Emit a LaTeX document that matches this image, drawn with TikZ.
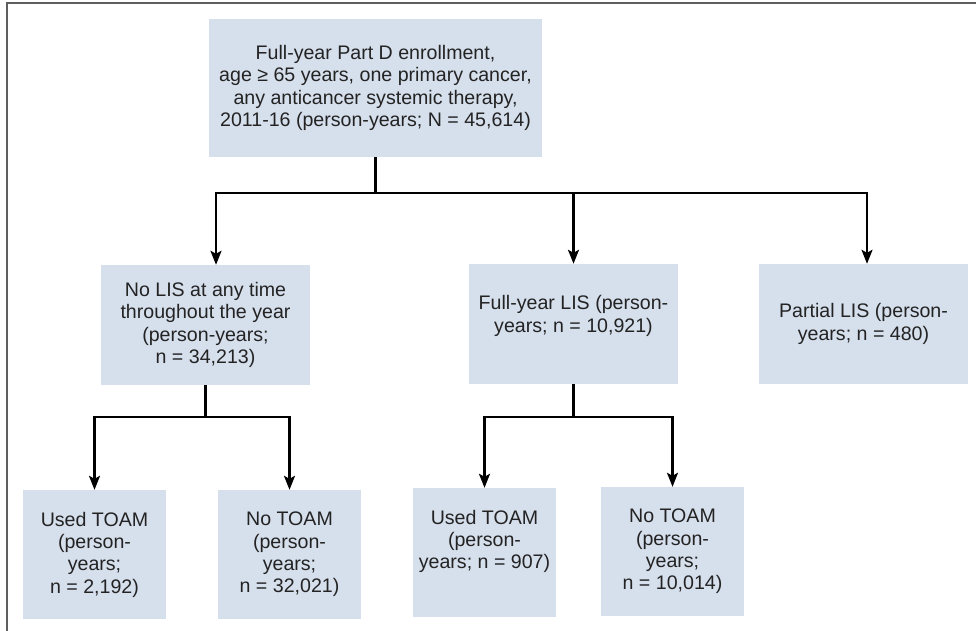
\documentclass[tikz,border=0pt]{standalone}
\usepackage{fontspec}
\setmainfont{Liberation Sans}
\usepackage{tikz}
\usetikzlibrary{positioning, calc, arrows.meta}
\definecolor{boxblue}{RGB}{214,223,236}
\definecolor{framegray}{RGB}{95,95,95}
\definecolor{inkgray}{RGB}{35,35,35}
\tikzset{pbox/.style={fill=boxblue, inner sep=0pt, align=center, text=inkgray, font=\fontsize{19.6}{22.3}\selectfont}}
\tikzset{sz/.style 2 args={minimum width=#1, minimum height=#2}}
\tikzset{lifted/.style={text depth=#1}}
\tikzset{conn/.style={draw, line width=2.2pt}}
\tikzset{arr/.style={conn, -{Stealth[length=14pt, width=11pt, inset=3pt]}}}

\begin{document}
\begin{tikzpicture}[x=1pt, y=-1pt]
	\useasboundingbox (0,0) rectangle (976,631);
	\clip (0,0) rectangle (976,631);
	\draw[framegray, line width=1.4pt] (7,3) rectangle (1000,660);
	%
	\node[pbox, sz={333pt}{138pt}] (enroll) at (375.5,88)
		{Full-year Part D enrollment,\\ age ≥ 65 years, one primary cancer,\\
		 any anticancer systemic therapy,\\ 2011-16 (person-years; N = 45,614)};
	%
	\node[pbox, sz={209pt}{120pt}] (nolis) at (205.5,325)
		{No LIS at any time\\ throughout the year\\ (person-years;\\ n = 34,213)};
	\node[pbox, sz={209pt}{120pt}, lifted=20pt] (fulllis) at (573.5,324)
		{Full-year LIS (person-\\ years; n = 10,921)};
	\node[pbox, sz={209pt}{120pt}] (partlis) at (863.5,324)
		{Partial LIS (person-\\ years; n = 480)};
	%
	\node[pbox, sz={143pt}{129pt}] (usedA) at (94.5,554.5)
		{Used TOAM\\ (person-\\ years;\\ n = 2,192)};
	\node[pbox, sz={143pt}{129pt}] (notoamA) at (289.5,554.5)
		{No TOAM\\ (person-\\ years;\\ n = 32,021)};
	\node[pbox, sz={143pt}{129pt}, lifted=26pt] (usedB) at (484.5,552.5)
		{Used TOAM\\ (person-\\ years; n = 907)};
	\node[pbox, sz={143pt}{129pt}] (notoamB) at (672.5,551.5)
		{No TOAM\\ (person-\\ years;\\ n = 10,014)};
	%
	\coordinate (split0) at ($(enroll.south)+(0,36)$);
	\draw[conn] (enroll.south) -- (split0);
	\draw[arr] (split0) -| ([xshift=10.5pt]nolis.north);
	\draw[arr] (split0) -| (fulllis.north);
	\draw[arr] (split0) -| ([xshift=3.5pt]partlis.north);
	%
	\coordinate (split1) at ($(nolis.south)+(0,32)$);
	\draw[conn] (nolis.south) -- (split1);
	\draw[arr] (split1) -| (usedA.north);
	\draw[arr] (split1) -| (notoamA.north);
	%
	\coordinate (split2) at ($(fulllis.south)+(0,33)$);
	\draw[conn] (fulllis.south) -- (split2);
	\draw[arr] (split2) -| (usedB.north);
	\draw[arr] (split2) -| (notoamB.north);
\end{tikzpicture}
\end{document}
